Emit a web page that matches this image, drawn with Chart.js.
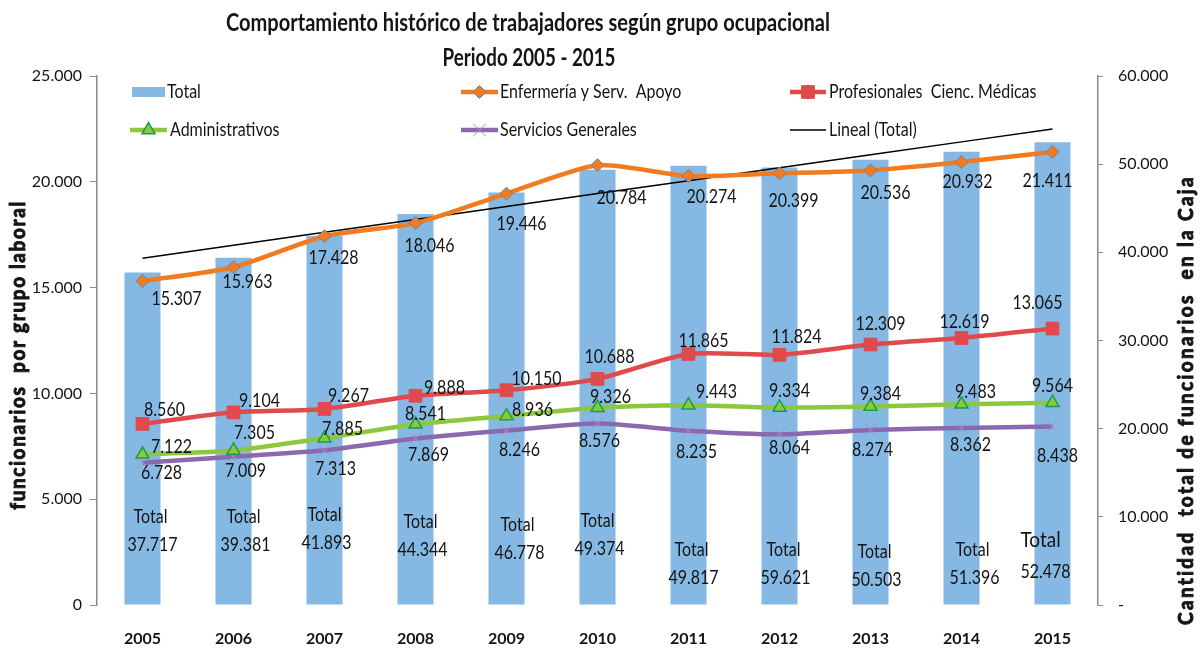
<!DOCTYPE html>
<html><head><meta charset="utf-8">
<script src="https://cdn.jsdelivr.net/npm/chart.js@4.4.1/dist/chart.umd.min.js"></script>
<style>html,body{margin:0;padding:0;background:#fff;}#wrap{width:1201px;height:649px;position:relative;}</style>
</head><body><div id="wrap"><canvas id="c" width="1201" height="649"></canvas></div>
<script>
// ---------- DATA ----------
const years = ['2005','2006','2007','2008','2009','2010','2011','2012','2013','2014','2015'];
const totals = [37717,39381,41893,44344,46778,49374,49817,49621,50503,51396,52478];
const totalLabelText = ['37.717','39.381','41.893','44.344','46.778','49.374','49.817','59.621','50.503','51.396','52.478'];
const enfermeria = [15307,15963,17428,18046,19446,20784,20274,20399,20536,20932,21411];
const profesionales = [8560,9104,9267,9888,10150,10688,11865,11824,12309,12619,13065];
const administrativos = [7122,7305,7885,8541,8936,9326,9443,9334,9384,9483,9564];
const serviciosGenerales = [6728,7009,7313,7869,8246,8576,8235,8064,8274,8362,8438];
const leftTickValues = [0,5000,10000,15000,20000,25000];
const rightTickValues = [0,10000,20000,30000,40000,50000,60000];
const titleLines = ['Comportamiento histórico de trabajadores según grupo ocupacional','Periodo 2005 - 2015'];
const leftAxisTitle = 'funcionarios  por grupo laboral';
const rightAxisTitle = 'Cantidad  total de funcionarios  en la Caja';

// Linear trend of totals (Excel "Lineal (Total)")
const trendTotal = (function(){
  const n = totals.length, xs = totals.map((_, i) => i + 1);
  const mx = xs.reduce((a,b)=>a+b,0)/n, my = totals.reduce((a,b)=>a+b,0)/n;
  let sxy = 0, sxx = 0;
  xs.forEach((x,i)=>{ sxy += (x-mx)*(totals[i]-my); sxx += (x-mx)*(x-mx); });
  const m = sxy/sxx;
  return xs.map(x => my + m*(x-mx));
})();

// ---------- STYLE / LAYOUT ----------
const FONT = 'Lato, "Open Sans", sans-serif';
const C = { bar:'#85B9E3', orange:'#F27A1F', red:'#E04A4C', green:'#8DC63F', greenEdge:'#12A14B',
            purple:'#8C68AE', purpleMk:'#A890CC', text:'#141414', axis:'#8a8a8a' };
const LABEL_OFFSETS = {
  enf: [[34,18],[14,15],[9,22],[14,23],[15,31],[24,33],[23,21],[14,28],[15,23],[6,20],[-5,29]],
  pro: [[22,-14],[26,-11],[24,-13],[29,-8],[30,-11],[12,-22],[15,-13],[17,-18],[10,-20],[3,-16],[-15,-25]],
  adm: [[29,-7],[21,-17],[18,-9],[10,-10],[26,-6],[13,-11],[28,-13],[10,-16],[10,-12],[14,-12],[0,-17]],
  ser: [[19,10],[12,14],[11,19],[13,17],[13,20],[2,18],[8,21],[10,14],[2,20],[9,17],[5,30]]
};
// [dx from bar centre, "Total" height above base, number height above base]
const TOTAL_LABEL_POS = [[8,88,60],[10,88,60],[0,90,62],[5,83,55],[11,80,52],[0,84,56],[3,55,27],[4,55,27],[4,53,25],[11,55,27],[-12,65,33]];

function fmt(v){ return String(Math.round(v)).replace(/\B(?=(\d{3})+(?!\d))/g,'.'); }

function drawStr(ctx, text, x, y, o){
  o = o || {};
  ctx.save();
  ctx.font = o.font || ('16px ' + FONT);
  ctx.fillStyle = o.color || C.text;
  ctx.strokeStyle = o.color || C.text;
  ctx.textAlign = o.align || 'center';
  ctx.textBaseline = 'middle';
  if (o.length) {
    const w0 = ctx.measureText(text).width;
    ctx.letterSpacing = Math.max(0, (o.length - w0) / (text.length - 1)) + 'px';
  }
  ctx.translate(x, y);
  if (o.rotate) ctx.rotate(o.rotate);
  let sx = o.sx || 1;
  if (o.width) { sx = o.width / ctx.measureText(text).width; }
  ctx.scale(sx, o.sy || 1.15);
  ctx.fillText(text, 0, 0);
  if (o.heavy) { ctx.lineWidth = o.heavy; ctx.strokeText(text, 0, 0); }
  ctx.restore();
}

const textPlugin = {
  id: 'excelText',
  afterDatasetsDraw(chart){
    const ctx = chart.ctx, H = Chart.helpers;
    // title
    drawStr(ctx, titleLines[0], 528, 23, {font:'bold 20px ' + FONT, width:604, sy:1.2});
    drawStr(ctx, titleLines[1], 529, 58, {font:'bold 20px ' + FONT, width:173, sy:1.2});
    // series data labels
    const series = [['enf',0,enfermeria],['pro',1,profesionales],['adm',2,administrativos],['ser',3,serviciosGenerales]];
    series.forEach(([key, idx, arr]) => {
      const meta = chart.getDatasetMeta(idx);
      meta.data.forEach((p, j) => {
        const off = LABEL_OFFSETS[key][j];
        drawStr(ctx, fmt(arr[j]), p.x + off[0], p.y + off[1], {font:'16px ' + FONT});
      });
    });
    // total labels inside bars
    const barMeta = chart.getDatasetMeta(5), base = chart.scales.y1.bottom;
    barMeta.data.forEach((b, j) => {
      const pos = TOTAL_LABEL_POS[j];
      const big = j === totals.length - 1;
      drawStr(ctx, 'Total', b.x + pos[0], base - pos[1], {font:(big?'19px ':'16px ') + FONT});
      drawStr(ctx, totalLabelText[j], b.x + pos[0] + (big?5:2), base - pos[2], {font:'16px ' + FONT});
    });
    // legend
    const L1 = 92, L2 = 130;
    ctx.save(); ctx.fillStyle = C.bar; ctx.fillRect(132, 87, 33, 10); ctx.restore();
    drawStr(ctx, 'Total', 167, L1, {align:'left'});
    const legLine = (x0, x1, y, color, w, mk) => {
      ctx.save(); ctx.strokeStyle = color; ctx.lineWidth = w; ctx.beginPath(); ctx.moveTo(x0, y); ctx.lineTo(x1, y); ctx.stroke(); ctx.restore();
      if (mk) { ctx.save(); ctx.fillStyle = mk.fill; ctx.strokeStyle = mk.stroke; ctx.lineWidth = mk.bw;
        H.drawPoint(ctx, {pointStyle: mk.style, radius: mk.r, rotation: 0, borderWidth: mk.bw}, (x0+x1)/2, y); ctx.restore(); }
    };
    legLine(461, 498, L1, C.orange, 4.5, {style:'rectRot', r:6.5, fill:C.orange, stroke:'#6a84a6', bw:1});
    drawStr(ctx, 'Enfermería y Serv.  Apoyo', 500, L1, {align:'left'});
    legLine(790, 826, L1, C.red, 4.5, {style:'rect', r:9, fill:C.red, stroke:C.red, bw:1});
    drawStr(ctx, 'Profesionales  Cienc. Médicas', 829, L1, {align:'left'});
    legLine(130, 167, L2, C.green, 4.5, {style:'triangle', r:7.5, fill:C.green, stroke:C.greenEdge, bw:1.5});
    drawStr(ctx, 'Administrativos', 170, L2, {align:'left'});
    legLine(461, 498, L2, C.purple, 4.5, {style:'crossRot', r:9, fill:C.purpleMk, stroke:C.purpleMk, bw:1});
    drawStr(ctx, 'Servicios Generales', 500, L2, {align:'left'});
    legLine(790, 826, L2, '#000', 1.5, null);
    drawStr(ctx, 'Lineal (Total)', 829, L2, {align:'left'});
    // axis titles
    drawStr(ctx, leftAxisTitle, 18, 355, {font:'bold 19px ' + FONT, rotate:-Math.PI/2, length:308, sy:1.1, heavy:0.9});
    drawStr(ctx, rightAxisTitle, 1186, 400, {font:'bold 19px ' + FONT, rotate:-Math.PI/2, length:448, sy:1.1, heavy:0.9});
  }
};

const ctx = document.getElementById('c').getContext('2d');
new Chart(ctx, {
  type: 'bar',
  data: {
    labels: years,
    datasets: [
      {type:'line', label:'Enfermería y Serv.  Apoyo', data:enfermeria, yAxisID:'y', borderColor:C.orange, borderWidth:4.5, tension:0.22,
       pointStyle:'rectRot', pointRadius:6.5, pointBackgroundColor:C.orange, pointBorderColor:'#6a84a6', pointBorderWidth:1},
      {type:'line', label:'Profesionales  Cienc. Médicas', data:profesionales, yAxisID:'y', borderColor:C.red, borderWidth:4.5, tension:0.22,
       pointStyle:'rect', pointRadius:9, pointBackgroundColor:C.red, pointBorderColor:C.red, pointBorderWidth:1},
      {type:'line', label:'Administrativos', data:administrativos, yAxisID:'y', borderColor:C.green, borderWidth:4.5, tension:0.22,
       pointStyle:'triangle', pointRadius:7.5, pointBackgroundColor:C.green, pointBorderColor:C.greenEdge, pointBorderWidth:1.5},
      {type:'line', label:'Servicios Generales', data:serviciosGenerales, yAxisID:'y', borderColor:C.purple, borderWidth:4.5, tension:0.22,
       pointStyle:'crossRot', pointRadius:9, pointBackgroundColor:C.purpleMk, pointBorderColor:C.purpleMk, pointBorderWidth:1},
      {type:'line', label:'Lineal (Total)', data:trendTotal, yAxisID:'y1', borderColor:'#000', borderWidth:1.5, pointRadius:0, tension:0},
      {type:'bar', label:'Total', data:totals, yAxisID:'y1', backgroundColor:C.bar, barPercentage:0.396, categoryPercentage:1}
    ]
  },
  options: {
    responsive:false, animation:false, devicePixelRatio:1,
    layout:{padding:{top:76, left:0, right:0, bottom:0}},
    plugins:{legend:{display:false}, title:{display:false}, tooltip:{enabled:false}},
    scales:{
      x:{grid:{display:false}, border:{display:false},
         ticks:{font:{family:FONT, weight:'bold', size:16}, color:C.text, padding:16, maxRotation:0},
         afterFit(s){ s.height = 44; }},
      y:{position:'left', min:0, max:25000,
         afterBuildTicks(s){ s.ticks = leftTickValues.map(v=>({value:v})); },
         ticks:{callback:v=>fmt(v), font:{family:FONT, size:16}, color:C.text, padding:8},
         grid:{drawOnChartArea:false, drawTicks:true, tickLength:7, color:C.axis},
         border:{display:true, color:C.axis, width:1.5},
         afterFit(s){ s.width = 97; }},
      y1:{position:'right', min:0, max:60000,
         afterBuildTicks(s){ s.ticks = rightTickValues.map(v=>({value:v})); },
         ticks:{callback:v=> v===0 ? '-' : fmt(v), font:{family:FONT, size:16}, color:C.text, padding:15},
         grid:{drawOnChartArea:false, drawTicks:true, tickLength:5, color:C.axis},
         border:{display:true, color:C.axis, width:1.5},
         afterFit(s){ s.width = 103; }}
    }
  },
  plugins:[textPlugin]
});
</script></body></html>
